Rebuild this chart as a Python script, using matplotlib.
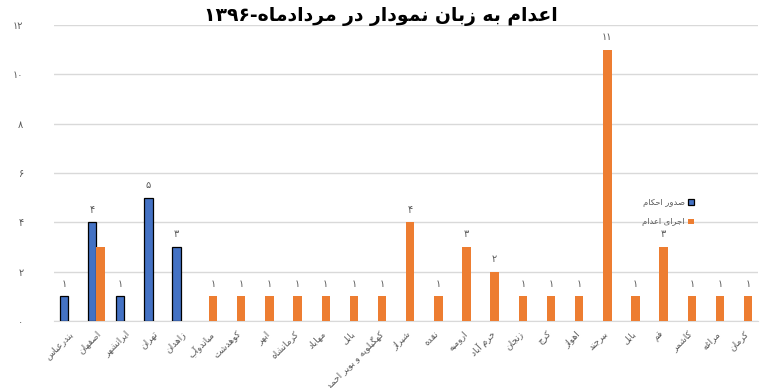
import numpy as np
import matplotlib
matplotlib.use("Agg")
import matplotlib.pyplot as plt

# ------------------ DATA ------------------
cities = ["بندرعباس", "اصفهان", "ایرانشهر", "تهران", "زاهدان", "میاندوآب", "کوهدشت",
          "ابهر", "کرمانشاه", "مهاباد", "بابل", "کهگیلویه و بویر احمد", "شیراز", "نقده",
          "ارومیه", "خرم آباد", "زنجان", "کرج", "اهواز", "بیرجند", "بابل", "قم",
          "کاشمر", "مراغه", "کرمان"]
sentences = [1, 4, 1, 5, 3] + [0] * 20            # صدور احکام
executions = [0, 3, 0, 0, 0, 1, 1, 1, 1, 1, 1, 1, 4, 1, 3, 2, 1, 1, 1, 11, 1, 3, 1, 1, 1]  # اجرای اعدام
series_names = ["صدور احکام", "اجرای اعدام"]
title = "اعدام به زبان نمودار در مردادماه-۱۳۹۶"
yticks = [0, 2, 4, 6, 8, 10, 12]

# ------------------ persian shaping (matplotlib does no RTL shaping) ------------------
FORMS = {
    'ا': (0xFE8D, 0xFE8E, None, None), 'آ': (0xFE81, 0xFE82, None, None),
    'ب': (0xFE8F, 0xFE90, 0xFE91, 0xFE92), 'پ': (0xFB56, 0xFB57, 0xFB58, 0xFB59),
    'ت': (0xFE95, 0xFE96, 0xFE97, 0xFE98), 'ث': (0xFE99, 0xFE9A, 0xFE9B, 0xFE9C),
    'ج': (0xFE9D, 0xFE9E, 0xFE9F, 0xFEA0), 'چ': (0xFB7A, 0xFB7B, 0xFB7C, 0xFB7D),
    'ح': (0xFEA1, 0xFEA2, 0xFEA3, 0xFEA4), 'خ': (0xFEA5, 0xFEA6, 0xFEA7, 0xFEA8),
    'د': (0xFEA9, 0xFEAA, None, None), 'ذ': (0xFEAB, 0xFEAC, None, None),
    'ر': (0xFEAD, 0xFEAE, None, None), 'ز': (0xFEAF, 0xFEB0, None, None),
    'ژ': (0xFB8A, 0xFB8B, None, None), 'و': (0xFEED, 0xFEEE, None, None),
    'س': (0xFEB1, 0xFEB2, 0xFEB3, 0xFEB4), 'ش': (0xFEB5, 0xFEB6, 0xFEB7, 0xFEB8),
    'ص': (0xFEB9, 0xFEBA, 0xFEBB, 0xFEBC), 'ض': (0xFEBD, 0xFEBE, 0xFEBF, 0xFEC0),
    'ط': (0xFEC1, 0xFEC2, 0xFEC3, 0xFEC4), 'ظ': (0xFEC5, 0xFEC6, 0xFEC7, 0xFEC8),
    'ع': (0xFEC9, 0xFECA, 0xFECB, 0xFECC), 'غ': (0xFECD, 0xFECE, 0xFECF, 0xFED0),
    'ف': (0xFED1, 0xFED2, 0xFED3, 0xFED4), 'ق': (0xFED5, 0xFED6, 0xFED7, 0xFED8),
    'ک': (0xFB8E, 0xFB8F, 0xFB90, 0xFB91), 'گ': (0xFB92, 0xFB93, 0xFB94, 0xFB95),
    'ل': (0xFEDD, 0xFEDE, 0xFEDF, 0xFEE0), 'م': (0xFEE1, 0xFEE2, 0xFEE3, 0xFEE4),
    'ن': (0xFEE5, 0xFEE6, 0xFEE7, 0xFEE8), 'ه': (0xFEE9, 0xFEEA, 0xFEEB, 0xFEEC),
    'ی': (0xFBFC, 0xFBFD, 0xFBFE, 0xFBFF),
}
DIGITS = "۰۱۲۳۴۵۶۷۸۹0123456789"


def shape(s):
    out = []
    for i, c in enumerate(s):
        if c not in FORMS:
            out.append(c)
            continue
        f = FORMS[c]
        prev = s[i - 1] if i > 0 else ''
        nxt = s[i + 1] if i < len(s) - 1 else ''
        jp = prev in FORMS and FORMS[prev][2] is not None
        jn = f[2] is not None and nxt in FORMS
        if jp and jn:
            code = f[3]
        elif jp:
            code = f[1]
        elif jn:
            code = f[2]
        else:
            code = f[0]
        out.append(chr(code))
    s = "".join(out)
    # simple bidi: digit runs stay LTR, everything else reversed
    runs, cur = [], ""
    for c in s:
        if cur and ((c in DIGITS) != (cur[-1] in DIGITS)):
            runs.append(cur)
            cur = ""
        cur += c
    runs.append(cur)
    return "".join(r if r[0] in DIGITS else r[::-1] for r in runs[::-1])


def fa(n):
    return "".join("۰۱۲۳۴۵۶۷۸۹"[int(d)] for d in str(n))


# ------------------ PLOT ------------------
plt.rcParams['font.family'] = ['DejaVu Sans']
gray = "#595959"

fig = plt.figure(figsize=(7.61, 3.88), dpi=100)
ax = fig.add_axes([0.071, 0.173, 0.925, 0.763])

x = np.arange(len(cities))
w = 0.3
s_vals = np.array(sentences, dtype=float)
e_vals = np.array(executions, dtype=float)
s_plot = np.where(s_vals > 0, s_vals, np.nan)
e_plot = np.where(e_vals > 0, e_vals, np.nan)

b1 = ax.bar(x - w / 2, s_plot, w, color="#4472C4", edgecolor="black", linewidth=0.9,
            label=shape(series_names[0]), zorder=3)
b2 = ax.bar(x + w / 2, e_plot, w, color="#ED7D31", label=shape(series_names[1]), zorder=3)

for i in range(len(cities)):
    if s_vals[i] > 0:
        ax.text(x[i] - w / 2, s_vals[i] + 0.3, fa(int(s_vals[i])), ha="center", va="bottom",
                fontsize=7, color=gray)
    elif e_vals[i] > 0:
        ax.text(x[i] + w / 2, e_vals[i] + 0.3, fa(int(e_vals[i])), ha="center", va="bottom",
                fontsize=7, color=gray)

ax.set_xlim(-0.5, len(cities) - 0.5)
ax.set_ylim(0, 12)
ax.set_yticks(yticks)
ax.set_yticklabels([fa(t) for t in yticks], fontsize=7, color=gray)
ax.set_xticks(x)
ax.set_xticklabels([shape(c) for c in cities], rotation=45, ha="right",
                   rotation_mode="anchor", fontsize=6.5, color=gray)
ax.tick_params(axis="both", length=0)
ax.tick_params(axis="y", pad=22)
ax.tick_params(axis="x", pad=6)
ax.grid(axis="y", color="#d9d9d9", linewidth=1, zorder=0)
for sp in ["top", "right", "left"]:
    ax.spines[sp].set_visible(False)
ax.spines["bottom"].set_color("#d9d9d9")

leg = ax.legend(loc="upper right", bbox_to_anchor=(0.922, 0.51), bbox_transform=fig.transFigure,
                frameon=False, markerfirst=False, fontsize=6, handlelength=0.7,
                handleheight=0.7, handletextpad=0.4, labelspacing=1.3)
for t in leg.get_texts():
    t.set_color(gray)

fig.text(0.5, 0.958, shape(title), ha="center", va="center", fontsize=13.5,
         fontweight="bold", color="black")

fig.savefig("out.png", dpi=100)
